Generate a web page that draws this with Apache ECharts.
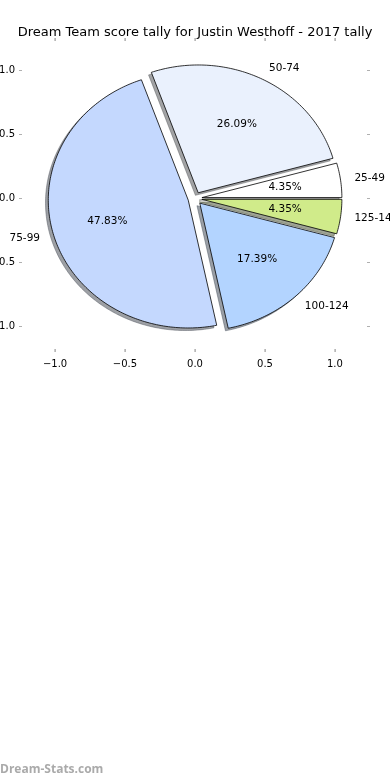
<!DOCTYPE html>
<html><head><meta charset="utf-8">
<script src="https://cdn.jsdelivr.net/npm/echarts@6/dist/echarts.min.js"></script>
<style>html,body{margin:0;padding:0;background:#fff}#c{width:390px;height:780px}</style>
</head><body><div id="c"></div>
<script>
// ---- data ----
const categories = ['25-49', '50-74', '75-99', '100-124', '125-149'];
const counts = [1, 6, 11, 4, 1];
const xTicks = [-1.0, -0.5, 0.0, 0.5, 1.0];
const yTicks = [-1.0, -0.5, 0.0, 0.5, 1.0];
const titleText = 'Dream Team score tally for Justin Westhoff - 2017 tally';
const watermark = 'Dream-Stats.com';

// ---- styles ----
const sliceColors = ['#ffffff', '#eaf1fd', '#c4d8fe', '#b3d4ff', '#d0eb8a'];
const EXPLODE = 0.05, RADIUS = 1.0, SHADOW_OFF = -0.02;
const FONT = 'DejaVu Sans';
const TICK_COLOR = '#999999';

const total = counts.reduce((a, b) => a + b, 0);
const starts = [];
let acc = 0;
counts.forEach(c => { starts.push(acc / total * 2 * Math.PI); acc += c; });
const ends = counts.map((c, i) => starts[i] + c / total * 2 * Math.PI);
const sliceData = counts.map((c, i) => [i, c]);
const xTickData = xTicks.map(v => [v, 0]);

function centerOf(i) {
  const m = (starts[i] + ends[i]) / 2;
  return [EXPLODE * Math.cos(m), EXPLODE * Math.sin(m)];
}
function wedgePts(api, i, dx, dy) {
  const [cx, cy] = centerOf(i);
  const t0 = starts[i], t1 = ends[i];
  const pts = [api.coord([cx + dx, cy + dy])];
  const n = Math.max(4, Math.ceil((t1 - t0) / (Math.PI / 180)));
  for (let k = 0; k <= n; k++) {
    const t = t0 + (t1 - t0) * k / n;
    pts.push(api.coord([cx + dx + RADIUS * Math.cos(t), cy + dy + RADIUS * Math.sin(t)]));
  }
  return pts;
}
function shadowFill(hex) {
  const r = parseInt(hex.slice(1, 3), 16), g = parseInt(hex.slice(3, 5), 16), b = parseInt(hex.slice(5, 7), 16);
  return `rgba(${Math.round(r * 0.3)},${Math.round(g * 0.3)},${Math.round(b * 0.3)},0.5)`;
}

const chart = echarts.init(document.getElementById('c'), null, { renderer: 'canvas' });
const tickStyle = { show: true, inside: false, length: 3, lineStyle: { color: '#b0b0b0', width: 1 } };
const fmt = v => (v < 0 ? '\u2212' : '') + Math.abs(v).toFixed(1);
function xAx(pos, showLabel) {
  return { type: 'value', min: -1.236, max: 1.229, position: pos,
    axisLine: { show: false, onZero: false }, splitLine: { show: false },
    axisTick: { show: false },
    axisLabel: { show: showLabel, customValues: xTicks, margin: 10, fontFamily: FONT, fontSize: 10, color: '#000', formatter: fmt } };
}
function yAx(pos, showLabel) {
  return { type: 'value', min: -1.178, max: 1.232, position: pos,
    axisLine: { show: false, onZero: false }, splitLine: { show: false },
    axisTick: Object.assign({ customValues: yTicks }, tickStyle),
    axisLabel: { show: showLabel, customValues: yTicks, margin: 7, fontFamily: FONT, fontSize: 10, color: '#000', formatter: fmt } };
}
chart.setOption({
  animation: false,
  title: { text: titleText, left: 'center', top: 21,
    textStyle: { fontFamily: FONT, fontSize: 13, fontWeight: 'normal', color: '#000' } },
  grid: { left: 22, right: 23, top: 41, bottom: 431, containLabel: false, outerBoundsMode: 'none' },
  xAxis: [xAx('bottom', true), xAx('top', false)],
  yAxis: [yAx('left', true), yAx('right', false)],
  graphic: [{ type: 'text', left: 0, top: 764,
    style: { text: watermark, fill: '#aaaaaa', font: 'bold 12px "Open Sans"' } }],
  series: [
    { type: 'custom', name: 'xticks', xAxisIndex: 0, yAxisIndex: 0, data: xTickData, silent: true, clip: false, z: 5,
      renderItem: (params, api) => {
        const p = api.coord([api.value(0), api.value(1)]);
        const top = api.coord([api.value(0), 1.232]);
        const bot = api.coord([api.value(0), -1.178]);
        const x = Math.round(p[0]);
        const st = { fill: TICK_COLOR };
        return { type: 'group', children: [
          { type: 'rect', shape: { x: x - 0.5, y: top[1] - 3, width: 1.2, height: 3 }, style: st },
          { type: 'rect', shape: { x: x - 0.5, y: bot[1], width: 1.2, height: 3 }, style: st }
        ] };
      } },
    { type: 'custom', name: 'shadow', xAxisIndex: 0, yAxisIndex: 0, data: sliceData, silent: true, clip: false,
      renderItem: (params, api) => {
        const i = params.dataIndex;
        const c = shadowFill(sliceColors[i]);
        return { type: 'polygon', shape: { points: wedgePts(api, i, SHADOW_OFF, SHADOW_OFF) },
          style: { fill: c, stroke: c, lineWidth: 0.8 } };
      } },
    { type: 'custom', name: 'wedges', xAxisIndex: 0, yAxisIndex: 0, data: sliceData, silent: true, clip: false,
      renderItem: (params, api) => {
        const i = params.dataIndex;
        return { type: 'polygon', shape: { points: wedgePts(api, i, 0, 0) },
          style: { fill: sliceColors[i], stroke: '#000', lineWidth: 0.8 } };
      } },
    { type: 'custom', name: 'labels', xAxisIndex: 0, yAxisIndex: 0, data: sliceData, silent: true, clip: false,
      renderItem: (params, api) => {
        const i = params.dataIndex;
        const [cx, cy] = centerOf(i);
        const m = (starts[i] + ends[i]) / 2;
        const lx = cx + 1.1 * RADIUS * Math.cos(m), ly = cy + 1.1 * RADIUS * Math.sin(m);
        const px = cx + 0.6 * RADIUS * Math.cos(m), py = cy + 0.6 * RADIUS * Math.sin(m);
        const lp = api.coord([lx, ly]), pp = api.coord([px, py]);
        const pct = (api.value(1) / total * 100).toFixed(2) + '%';
        return { type: 'group', children: [
          { type: 'text', x: lp[0], y: lp[1], style: { text: categories[i], fill: '#000',
            fontFamily: FONT, fontSize: 10.5, align: lx > 0 ? 'left' : 'right', verticalAlign: 'middle' } },
          { type: 'text', x: pp[0], y: pp[1], style: { text: pct, fill: '#000',
            fontFamily: FONT, fontSize: 10.5, align: 'center', verticalAlign: 'middle' } }
        ] };
      } }
  ]
});
</script></body></html>
